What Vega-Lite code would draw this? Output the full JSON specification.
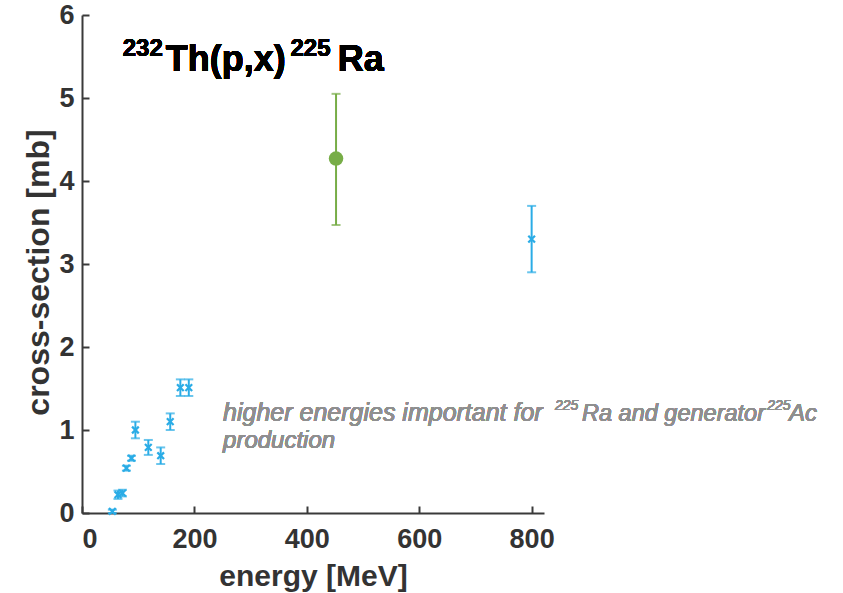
{
  "$schema": "https://vega.github.io/schema/vega-lite/v6.json",
  "autosize": "none",
  "width": 462,
  "height": 498,
  "padding": {"left": 82, "top": 15, "right": 299, "bottom": 80},
  "background": "white",
  "config": {
    "view": {"stroke": null},
    "font": "Liberation Sans",
    "axis": {
      "grid": false,
      "domainColor": "#3a3a3a",
      "domainWidth": 2,
      "tickColor": "#3a3a3a",
      "tickWidth": 2,
      "tickSize": -7,
      "labelFont": "Liberation Sans",
      "labelFontWeight": "bold",
      "labelFontSize": 27,
      "labelColor": "#333333",
      "titleFont": "Liberation Sans",
      "titleFontWeight": "bold",
      "titleColor": "#333333"
    }
  },
  "data": {
    "values": [
      {"energy": 54, "xs": 0.02, "lo": 0.0, "hi": 0.04, "series": "blue"},
      {"energy": 64, "xs": 0.22, "lo": 0.17, "hi": 0.27, "series": "blue"},
      {"energy": 72, "xs": 0.24, "lo": 0.2, "hi": 0.28, "series": "blue"},
      {"energy": 79, "xs": 0.54, "lo": 0.51, "hi": 0.57, "series": "blue"},
      {"energy": 88, "xs": 0.66, "lo": 0.63, "hi": 0.69, "series": "blue"},
      {"energy": 95, "xs": 1.0, "lo": 0.9, "hi": 1.1, "series": "blue"},
      {"energy": 118, "xs": 0.79, "lo": 0.7, "hi": 0.88, "series": "blue"},
      {"energy": 140, "xs": 0.69, "lo": 0.59, "hi": 0.79, "series": "blue"},
      {"energy": 157, "xs": 1.1, "lo": 1.0, "hi": 1.2, "series": "blue"},
      {"energy": 175, "xs": 1.51, "lo": 1.41, "hi": 1.61, "series": "blue"},
      {"energy": 190, "xs": 1.51, "lo": 1.41, "hi": 1.61, "series": "blue"},
      {"energy": 800, "xs": 3.3, "lo": 2.9, "hi": 3.7, "series": "blue"},
      {"energy": 452, "xs": 4.27, "lo": 3.47, "hi": 5.05, "series": "green"}
    ]
  },
  "layer": [
    {
      "mark": {"type": "errorbar", "ticks": {"size": 9, "thickness": 2}, "thickness": 2},
      "encoding": {
        "x": {"field": "energy", "type": "quantitative", "scale": {"domain": [0, 822], "nice": false},
              "axis": {"values": [0, 200, 400, 600, 800], "format": "d", "title": "energy [MeV]", "titleFontSize": 30, "labelPadding": 20, "titlePadding": 9}},
        "y": {"field": "lo", "type": "quantitative", "scale": {"domain": [0, 6], "nice": false},
              "axis": {"values": [0, 1, 2, 3, 4, 5, 6], "format": "d", "title": "cross-section [mb]", "titleFontSize": 32, "titleY": 257, "labelPadding": 15, "titlePadding": 3}},
        "y2": {"field": "hi"},
        "color": {"field": "series", "type": "nominal", "scale": {"domain": ["blue", "green"], "range": ["#2aace6", "#77ad47"]}, "legend": null}
      }
    },
    {
      "transform": [{"filter": "datum.series === 'blue'"}],
      "mark": {"type": "point", "shape": "M-1,-1L1,1M-1,1L1,-1", "filled": false, "size": 45, "strokeWidth": 2.2, "color": "#2aace6", "opacity": 1},
      "encoding": {
        "x": {"field": "energy", "type": "quantitative"},
        "y": {"field": "xs", "type": "quantitative"}
      }
    },
    {
      "transform": [{"filter": "datum.series === 'green'"}],
      "mark": {"type": "point", "shape": "circle", "filled": true, "size": 210, "color": "#77ad47", "opacity": 1},
      "encoding": {
        "x": {"field": "energy", "type": "quantitative"},
        "y": {"field": "xs", "type": "quantitative"}
      }
    },
    {
      "mark": {"type": "text", "align": "left", "baseline": "alphabetic", "fontWeight": "bold", "fontSize": 24, "color": "#000000"},
      "encoding": {"x": {"datum": 72.5}, "y": {"datum": 5.51}, "text": {"value": "232"}}
    },
    {
      "mark": {"type": "text", "align": "left", "baseline": "alphabetic", "fontWeight": "bold", "fontSize": 36, "color": "#000000"},
      "encoding": {"x": {"datum": 149}, "y": {"datum": 5.32}, "text": {"value": "Th(p,x)"}}
    },
    {
      "mark": {"type": "text", "align": "left", "baseline": "alphabetic", "fontWeight": "bold", "fontSize": 24, "color": "#000000"},
      "encoding": {"x": {"datum": 371}, "y": {"datum": 5.51}, "text": {"value": "225"}}
    },
    {
      "mark": {"type": "text", "align": "left", "baseline": "alphabetic", "fontWeight": "bold", "fontSize": 36, "color": "#000000"},
      "encoding": {"x": {"datum": 455}, "y": {"datum": 5.32}, "text": {"value": "Ra"}}
    },
    {
      "mark": {"type": "text", "align": "left", "baseline": "alphabetic", "fontStyle": "italic", "fontSize": 25, "color": "#8f8f8f"},
      "encoding": {"x": {"datum": 251}, "y": {"datum": 1.104}, "text": {"value": "higher energies important for"}}
    },
    {
      "mark": {"type": "text", "align": "left", "baseline": "alphabetic", "fontStyle": "italic", "fontSize": 14, "color": "#8f8f8f"},
      "encoding": {"x": {"datum": 841.6}, "y": {"datum": 1.245}, "text": {"value": "225"}}
    },
    {
      "mark": {"type": "text", "align": "left", "baseline": "alphabetic", "fontStyle": "italic", "fontSize": 23.5, "color": "#8f8f8f"},
      "encoding": {"x": {"datum": 889.7}, "y": {"datum": 1.104}, "text": {"value": "Ra and generator"}}
    },
    {
      "mark": {"type": "text", "align": "left", "baseline": "alphabetic", "fontStyle": "italic", "fontSize": 14, "color": "#8f8f8f"},
      "encoding": {"x": {"datum": 1219}, "y": {"datum": 1.245}, "text": {"value": "225"}}
    },
    {
      "mark": {"type": "text", "align": "left", "baseline": "alphabetic", "fontStyle": "italic", "fontSize": 24, "color": "#8f8f8f"},
      "encoding": {"x": {"datum": 1258}, "y": {"datum": 1.104}, "text": {"value": "Ac"}}
    },
    {
      "mark": {"type": "text", "align": "left", "baseline": "alphabetic", "fontStyle": "italic", "fontSize": 24, "color": "#8f8f8f"},
      "encoding": {"x": {"datum": 251}, "y": {"datum": 0.787}, "text": {"value": "production"}}
    }
  ]
}
